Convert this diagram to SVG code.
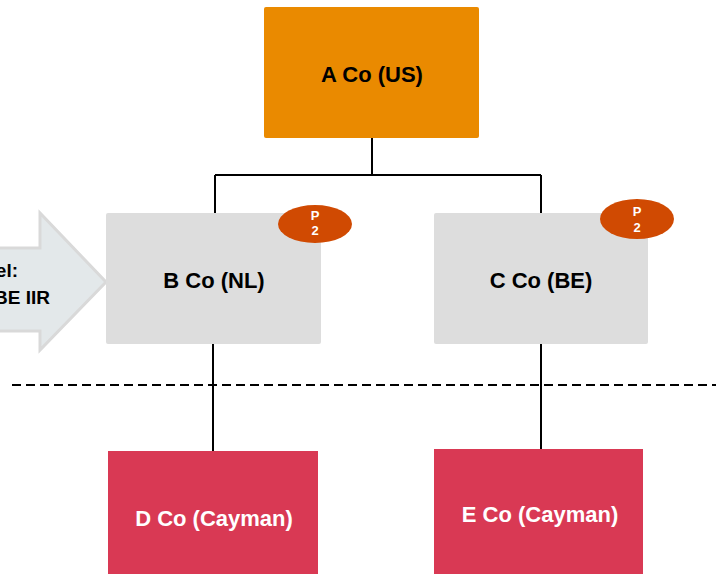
<svg xmlns="http://www.w3.org/2000/svg" width="721" height="574" viewBox="0 0 721 574">
<style>
.lbl{font-family:"Liberation Sans",Arial,sans-serif;font-weight:bold;font-size:22px;text-anchor:middle;dominant-baseline:central}
.dark{fill:#000}
.white{fill:#fff}
.grey{fill:#DDDDDD}
.badge{fill:#D04A02}
.btxt{font-family:"Liberation Sans",Arial,sans-serif;font-weight:bold;font-size:13px;fill:#fff;text-anchor:middle}
.atxt{font-family:"Liberation Sans",Arial,sans-serif;font-weight:bold;font-size:19px;text-anchor:end;fill:#000;dominant-baseline:central}
.conn{stroke:#000;stroke-width:2;fill:none}
</style>
<rect width="721" height="574" fill="#fff"/>
<g id="arrow">
<polygon points="-10,248 40,248 40,213 106,282 40,350 40,331 -10,331" fill="#E3E8EA" stroke="#D9D9D9" stroke-width="3"/>
<text class="atxt" x="18" y="270">el:</text>
<text class="atxt" x="50" y="297">BE IIR</text>
</g>
<g id="connectors">
<path class="conn" d="M372,138 V175"/>
<path class="conn" d="M215,175 H541 M215,175 V213 M541,175 V213"/>
<path class="conn" d="M213,344 V451 M541,344 V449"/>
<line x1="12" y1="385" x2="716" y2="385" stroke="#000" stroke-width="2" stroke-dasharray="9,5"/>
</g>
<g id="nodeA">
<rect x="264" y="7" width="215" height="131" rx="2" fill="#EA8A00"/>
<text class="lbl dark" x="372" y="74">A Co (US)</text>
</g>
<g id="nodeB">
<rect x="106" y="213" width="215" height="131" rx="2" class="grey"/>
<text class="lbl dark" x="214" y="280">B Co (NL)</text>
<ellipse cx="315" cy="224" rx="37" ry="19" class="badge"/>
<text class="btxt" x="315" y="220">P</text>
<text class="btxt" x="315" y="235">2</text>
</g>
<g id="nodeC">
<rect x="434" y="213" width="214" height="131" rx="2" class="grey"/>
<text class="lbl dark" x="541" y="280">C Co (BE)</text>
<ellipse cx="637" cy="219" rx="37" ry="20" class="badge"/>
<text class="btxt" x="637" y="216">P</text>
<text class="btxt" x="637" y="232">2</text>
</g>
<g id="nodeD">
<rect x="108" y="451" width="210" height="130" fill="#D93954"/>
<text class="lbl white" x="214" y="518">D Co (Cayman)</text>
</g>
<g id="nodeE">
<rect x="434" y="449" width="209" height="130" fill="#D93954"/>
<text class="lbl white" x="540" y="514">E Co (Cayman)</text>
</g>
</svg>
